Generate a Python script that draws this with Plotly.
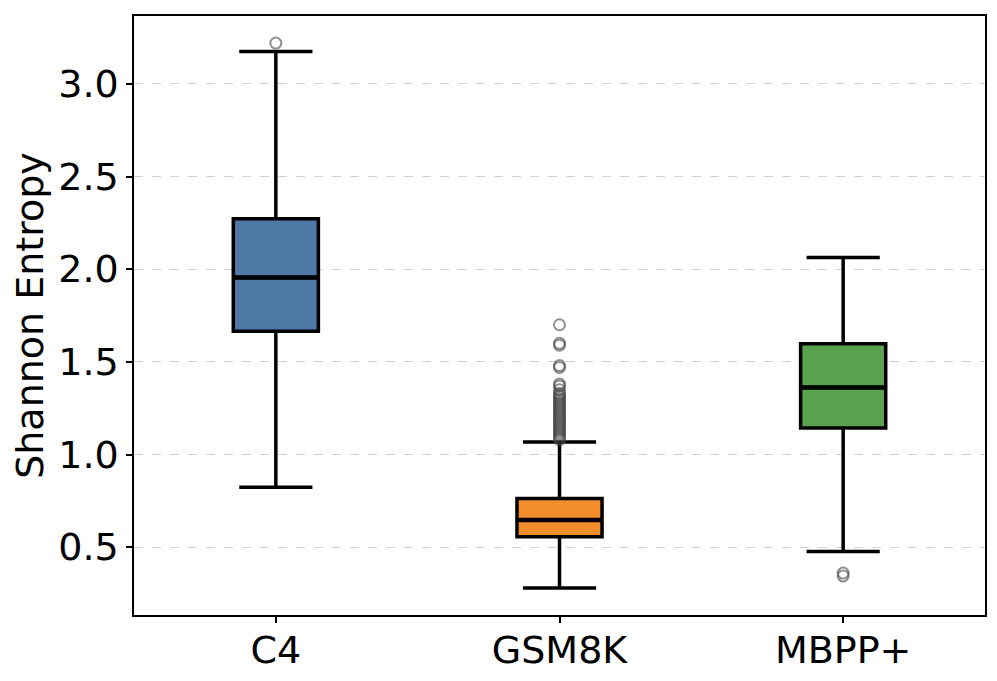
import plotly.graph_objects as go

categories = ["C4", "GSM8K", "MBPP+"]
q1 = [1.665, 0.556, 1.143]
median = [1.955, 0.647, 1.362]
q3 = [2.272, 0.762, 1.597]
lower = [0.823, 0.280, 0.476]
upper = [3.175, 1.068, 2.063]
outliers = [
    [3.22],
    [1.08, 1.09, 1.10, 1.11, 1.12, 1.13, 1.14, 1.15, 1.16, 1.17, 1.18, 1.19,
     1.20, 1.21, 1.22, 1.23, 1.24, 1.25, 1.26, 1.27, 1.28, 1.29, 1.30, 1.31,
     1.32, 1.33, 1.35, 1.37, 1.38, 1.47, 1.48, 1.59, 1.60, 1.70],
    [0.36, 0.345],
]
colors = ["#4e78a6", "#f28e2b", "#59a14f"]
ytick_vals = [0.5, 1.0, 1.5, 2.0, 2.5, 3.0]
ytick_text = ["0.5", "1.0", "1.5", "2.0", "2.5", "3.0"]
box_width = 0.3

fig = go.Figure()
for i, cat in enumerate(categories):
    fig.add_trace(go.Box(
        x=[i], q1=[q1[i]], median=[median[i]], q3=[q3[i]],
        lowerfence=[lower[i]], upperfence=[upper[i]],
        width=box_width, whiskerwidth=0.86,
        fillcolor=colors[i],
        line=dict(color="black", width=3.5),
        boxpoints=False, showlegend=False, name=cat,
    ))
    # thicker median line, as in the reference
    fig.add_trace(go.Scatter(
        x=[i - box_width / 2, i + box_width / 2], y=[median[i], median[i]],
        mode="lines", line=dict(color="black", width=4.5),
        showlegend=False, hoverinfo="skip",
    ))
    fig.add_trace(go.Scatter(
        x=[i] * len(outliers[i]), y=outliers[i], mode="markers",
        marker=dict(symbol="circle-open", size=11, color="rgba(70,70,70,0.6)",
                    line=dict(width=2)),
        showlegend=False, hoverinfo="y",
    ))

fs = 38
fig.update_layout(
    width=989, height=673,
    margin=dict(l=126, r=12, t=6, b=66),
    plot_bgcolor="white", paper_bgcolor="white",
    font=dict(family="DejaVu Sans", size=fs, color="black"),
    xaxis=dict(
        range=[-0.5, 2.5], tickmode="array", tickvals=[0, 1, 2], ticktext=categories,
        showline=True, linecolor="black", linewidth=1.5, mirror=True,
        ticks="outside", ticklen=6, tickwidth=1.5, tickcolor="black",
        showgrid=False, zeroline=False, tickfont=dict(size=fs),
        ticklabelstandoff=-5,
    ),
    yaxis=dict(
        range=[0.134, 3.366], tickmode="array", tickvals=ytick_vals, ticktext=ytick_text,
        showline=True, linecolor="black", linewidth=1.5, mirror=True,
        ticks="outside", ticklen=6, tickwidth=1.5, tickcolor="black",
        showgrid=True, gridcolor="rgba(180,180,180,0.6)", griddash="dash", gridwidth=1,
        zeroline=False, tickfont=dict(size=fs),
        title=dict(text="Shannon Entropy", font=dict(size=fs), standoff=4),
    ),
)
fig.write_html("out.html")
